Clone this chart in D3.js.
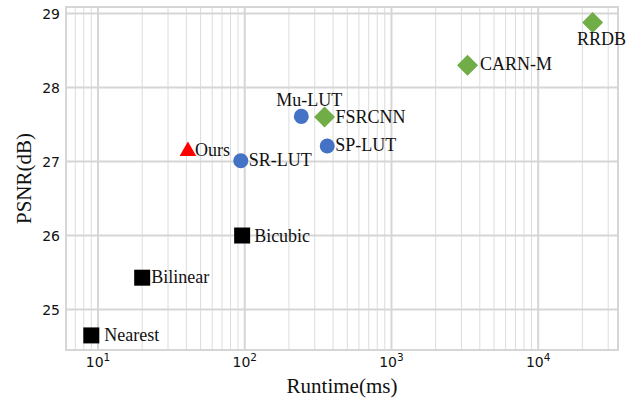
<!DOCTYPE html>
<meta charset="utf-8">
<script src="https://cdn.jsdelivr.net/npm/d3@7"></script>
<style>
  body { margin: 0; background: #fff; }
  .lbl { font-family: "Liberation Serif", "Times New Roman", serif; font-size: 18px; fill: #111; }
  .tick { font-family: "DejaVu Sans", sans-serif; font-size: 14px; fill: #111; }
  .title { font-family: "Liberation Serif", "Times New Roman", serif; font-size: 21px; fill: #111; }
</style>
<div id="chart"></div>
<script>

// data
var methods = ["Nearest", "Bilinear", "Bicubic", "Ours", "SR-LUT", "Mu-LUT", "FSRCNN", "SP-LUT", "CARN-M", "RRDB"]
var runtime = [9, 20, 96, 41, 94, 243, 350, 365, 3300, 23500]   // ms
var psnr    = [24.65, 25.43, 26.0, 27.14, 27.01, 27.61, 27.6, 27.21, 28.3, 28.88]
var kind    = ["interp", "interp", "interp", "ours", "lut", "lut", "dnn", "lut", "dnn", "dnn"]

var yTicks = [25, 26, 27, 28, 29]
var xDecades = [10, 100, 1000, 10000]

// label placement (dx, dy from marker centre, anchor)
var place = {
  "Nearest":  [13, 6, "start"],
  "Bilinear": [9, 5.5, "start"],
  "Bicubic":  [12, 6, "start"],
  "Ours":     [7, 4.5, "start"],
  "SR-LUT":   [8, 5, "start"],
  "Mu-LUT":   [8, -10, "middle"],
  "FSRCNN":   [11, 6, "start"],
  "SP-LUT":   [8, 5.5, "start"],
  "CARN-M":   [12.5, 5, "start"],
  "RRDB":     [9, 22.5, "middle"]
}

var W = 641, H = 400
var svg = d3.select("#chart").append("svg").attr("width", W).attr("height", H)

var x = d3.scaleLog().domain([6.05, 35000]).range([66, 618])
var y = d3.scaleLinear().domain([24.453, 29.088]).range([350, 7])

var grid = svg.append("g")

// minor vertical lines
var minor = []
for (var d = 1; d <= 10000; d *= 10)
  for (var k = 1; k <= 9; k++) {
    var v = d * k
    if (v > x.domain()[0] && v < x.domain()[1] && xDecades.indexOf(v) < 0) minor.push(v)
  }

grid.selectAll(".minor").data(minor).enter().append("line")
  .attr("x1", function(d){ return x(d) }).attr("x2", function(d){ return x(d) })
  .attr("y1", y.range()[1]).attr("y2", y.range()[0])
  .attr("stroke", "#dcdcdc").attr("stroke-width", 1)

grid.selectAll(".major").data(xDecades).enter().append("line")
  .attr("x1", function(d){ return x(d) }).attr("x2", function(d){ return x(d) })
  .attr("y1", y.range()[1]).attr("y2", y.range()[0])
  .attr("stroke", "#d6d6d6").attr("stroke-width", 2)

grid.selectAll(".hline").data(yTicks).enter().append("line")
  .attr("x1", x.range()[0]).attr("x2", x.range()[1])
  .attr("y1", function(d){ return y(d) }).attr("y2", function(d){ return y(d) })
  .attr("stroke", "#d6d6d6").attr("stroke-width", 2)

// frame
svg.append("rect")
  .attr("x", x.range()[0]).attr("y", y.range()[1])
  .attr("width", x.range()[1] - x.range()[0]).attr("height", y.range()[0] - y.range()[1])
  .attr("fill", "none").attr("stroke", "#d6d6d6").attr("stroke-width", 2)

// y tick labels
svg.selectAll(".ytl").data(yTicks).enter().append("text")
  .attr("class", "tick")
  .attr("x", 60).attr("y", function(d){ return y(d) })
  .attr("dy", "0.42em")
  .attr("text-anchor", "end")
  .text(function(d){ return d })

// x tick labels 10^n
var xt = svg.selectAll(".xtl").data(xDecades).enter().append("text")
  .attr("class", "tick")
  .attr("font-size", "15px")
  .attr("x", function(d){ return x(d) }).attr("y", 367)
  .attr("text-anchor", "middle")
xt.append("tspan").text("10")
xt.append("tspan").attr("font-size", "10.5px").attr("dy", -6)
  .text(function(d){ return Math.round(Math.log10(d)) })

// axis titles
svg.append("text").attr("class", "title")
  .attr("x", (x.range()[0] + x.range()[1]) / 2).attr("y", 393)
  .attr("text-anchor", "middle").text("Runtime(ms)")

svg.append("text").attr("class", "title")
  .attr("transform", "translate(31," + ((y.range()[0] + y.range()[1]) / 2) + ") rotate(-90)")
  .attr("text-anchor", "middle").text("PSNR(dB)")

// markers
var color = { interp: "#000000", ours: "#ff0000", lut: "#4472c4", dnn: "#70ad47" }
var shape = { interp: d3.symbolSquare, ours: d3.symbolTriangle, lut: d3.symbolCircle, dnn: d3.symbolDiamond }
var size  = { interp: 256, ours: 120, lut: 177, dnn: 200 }

var pts = methods.map(function(m, i){ return { name: m, rt: runtime[i], p: psnr[i], k: kind[i] } })

svg.selectAll(".pt").data(pts).enter().append("path")
  .attr("transform", function(d){ return "translate(" + x(d.rt) + "," + y(d.p) + ")" })
  .attr("d", function(d){
    if (d.k == "dnn") {
      var h = 10.5
      return "M0," + (-h) + "L" + h + ",0L0," + h + "L" + (-h) + ",0Z"
    }
    return d3.symbol().type(shape[d.k]).size(size[d.k])()
  })
  .attr("fill", function(d){ return color[d.k] })

// point labels
svg.selectAll(".pl").data(pts).enter().append("text")
  .attr("class", "lbl")
  .attr("x", function(d){ return x(d.rt) + place[d.name][0] })
  .attr("y", function(d){ return y(d.p) + place[d.name][1] })
  .attr("text-anchor", function(d){ return place[d.name][2] })
  .text(function(d){ return d.name })

</script>
